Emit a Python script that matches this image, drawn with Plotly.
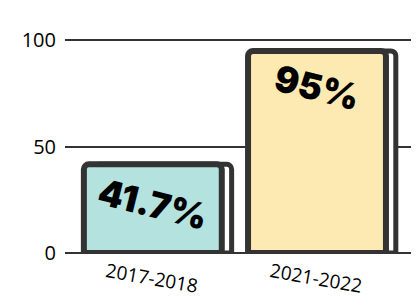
import plotly.graph_objects as go

# ---- data ----
periods = ["2017-2018", "2021-2022"]
rates = [41.7, 95]
rate_labels = ["41.7%", "95%"]
y_ticks = [0, 50, 100]

fill_colors = ["#b4e2df", "#fde9b2"]
edge = "#333333"

fig = go.Figure()

# side/back face to suggest depth
fig.add_trace(go.Bar(
    x=periods, y=rates,
    width=0.84, offset=-0.37,
    marker=dict(color="white", line=dict(color=edge, width=5), cornerradius=5),
    hoverinfo="skip", showlegend=False,
))

# front face
fig.add_trace(go.Bar(
    x=periods, y=rates,
    width=0.84, offset=-0.43,
    text=rate_labels,
    textposition="inside",
    insidetextanchor="end",
    textangle=14,
    textfont=dict(family="Inter", size=36, color="black", weight=900),
    marker=dict(color=fill_colors, line=dict(color=edge, width=6), cornerradius=5),
    showlegend=False,
))

fig.update_layout(
    width=419, height=307,
    barmode="overlay",
    margin=dict(l=57, r=0, t=28, b=62),
    plot_bgcolor="white", paper_bgcolor="white",
    font=dict(family="Open Sans", color="black"),
    uniformtext=dict(minsize=20, mode="show"),
)
fig.update_xaxes(
    range=[-0.545, 1.66],
    showgrid=False, showline=False, zeroline=False, ticks="",
    tickangle=10, ticklabelshift=-48, ticklabelstandoff=4,
    tickfont=dict(family="Open Sans", size=19, color="black"),
)
fig.update_yaxes(
    range=[0, 102],
    tickvals=y_ticks,
    showgrid=True, gridcolor=edge, gridwidth=2,
    zeroline=True, zerolinecolor=edge, zerolinewidth=2,
    showline=False, ticks="", ticklabelstandoff=8,
    tickfont=dict(family="Open Sans", size=20, color="black"),
)

fig.write_html("out.html")
